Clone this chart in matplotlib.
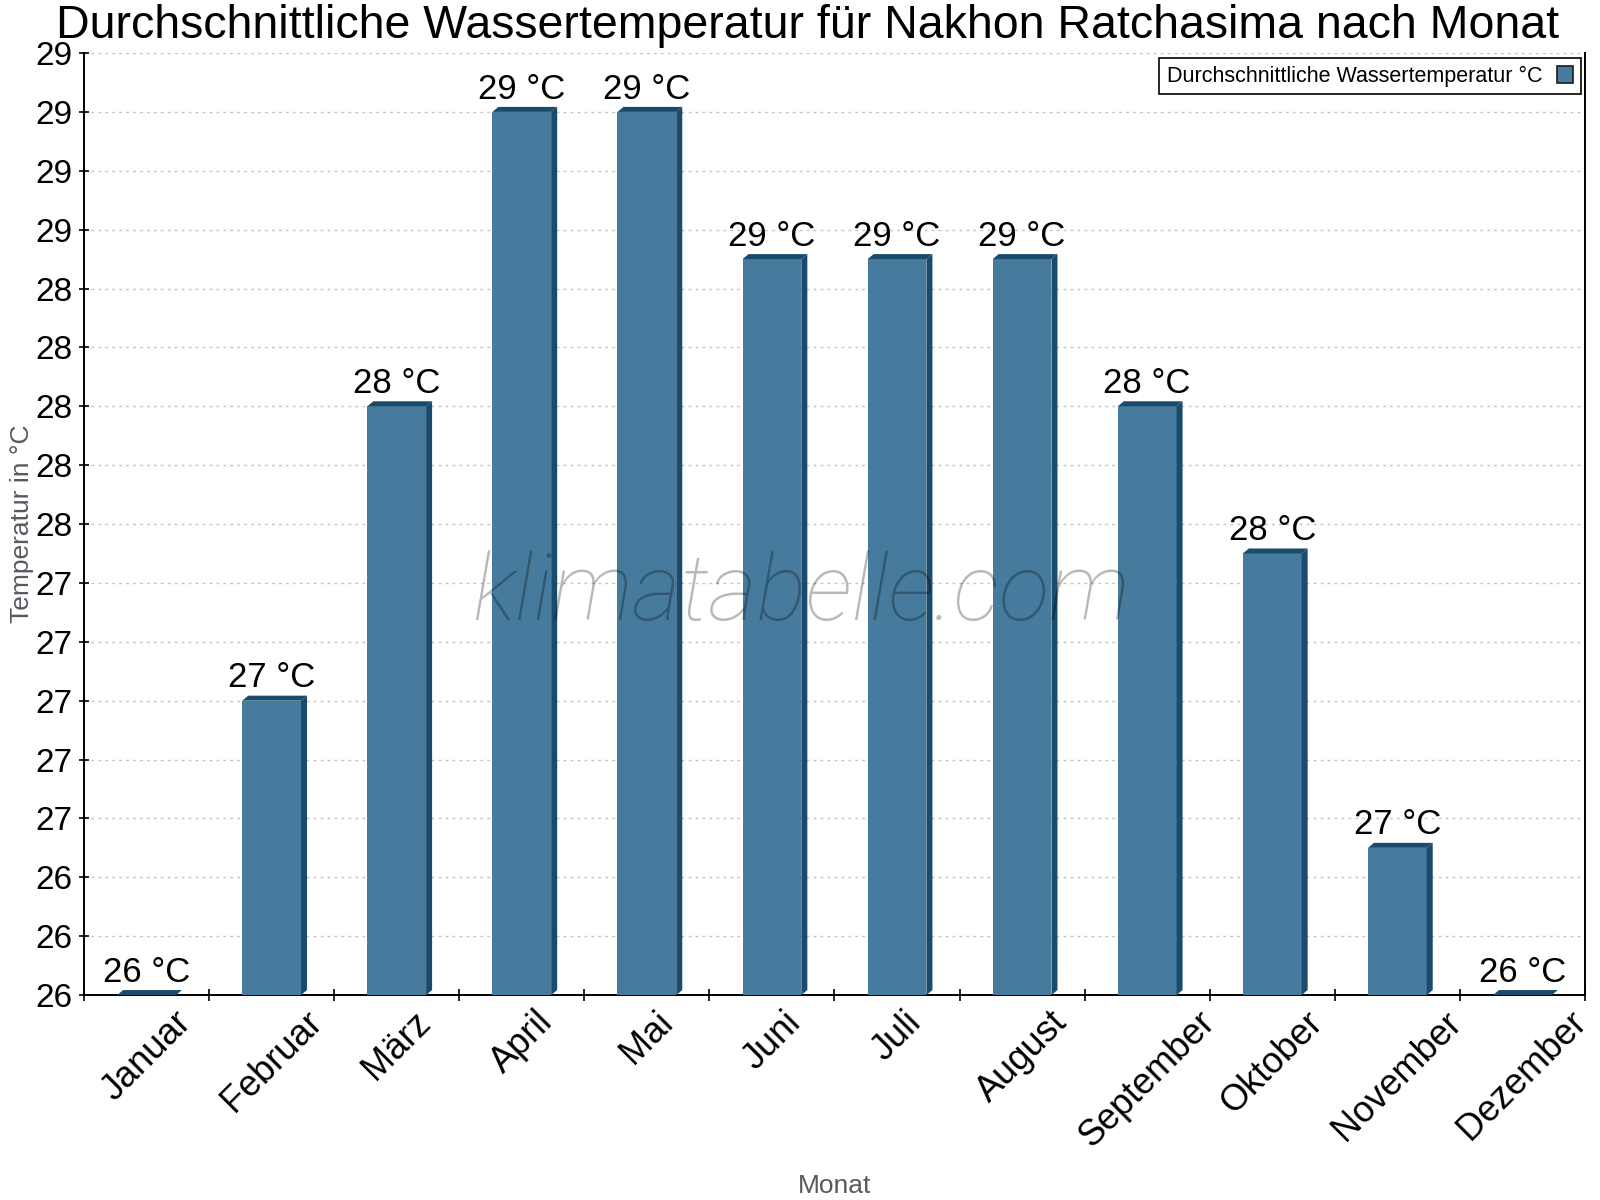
import numpy as np
import matplotlib
matplotlib.use("Agg")
import matplotlib.pyplot as plt
from matplotlib.patches import Polygon, Patch
from matplotlib.ticker import FixedLocator, FuncFormatter

# data
months = ["Januar", "Februar", "März", "April", "Mai", "Juni",
          "Juli", "August", "September", "Oktober", "November", "Dezember"]
water_temp = [26.0, 27.0, 28.0, 29.0, 29.0, 28.5, 28.5, 28.5, 28.0, 27.5, 26.5, 26.0]
y_ticks = [26.0, 26.2, 26.4, 26.6, 26.8, 27.0, 27.2, 27.4, 27.6, 27.8,
           28.0, 28.2, 28.4, 28.6, 28.8, 29.0, 29.2]

title = "Durchschnittliche Wassertemperatur für Nakhon Ratchasima nach Monat"
legend_label = "Durchschnittliche Wassertemperatur °C"

FRONT = "#467b9d"
DARK = "#1b4b6c"

plt.rcParams['font.family'] = ['Liberation Sans', 'DejaVu Sans']


def rounded(v):
    # labels round half up (28.5 -> 29)
    return int(np.floor(v + 0.5 + 1e-9))


fig = plt.figure(figsize=(16, 12), dpi=100)
ax = fig.add_axes([0.0525, 0.1708, 0.9381, 0.785])

x = np.arange(len(months))
bar_w = 0.47
ymin, ymax = y_ticks[0], y_ticks[-1]
ax.set_xlim(-0.5, len(months) - 0.5)
ax.set_ylim(ymin, ymax)

# depth of the fake 3d faces, in data units (about 6 px right, 5 px up)
dx = 0.048
dy = 0.017

ax.bar(x, np.array(water_temp) - ymin, bottom=ymin, width=bar_w,
       color=FRONT, zorder=3)
for xi, v in zip(x, water_temp):
    x0 = xi - bar_w / 2
    x1 = xi + bar_w / 2
    top = Polygon([(x0, v), (x1, v), (x1 + dx, v + dy), (x0 + dx, v + dy)],
                  closed=True, facecolor=DARK, edgecolor="none", zorder=3)
    side = Polygon([(x1, ymin), (x1, v), (x1 + dx, v + dy), (x1 + dx, ymin + dy)],
                   closed=True, facecolor=DARK, edgecolor="none", zorder=3)
    ax.add_patch(top)
    ax.add_patch(side)
    ax.annotate(f"{rounded(v)} °C", (xi, v + dy), xytext=(0, 1),
                textcoords="offset points", ha="center", va="bottom",
                fontsize=25, color="black", zorder=5)

# y axis
ax.yaxis.set_major_locator(FixedLocator(y_ticks))
ax.yaxis.set_major_formatter(FuncFormatter(lambda v, p: f"{rounded(v)}"))
ax.tick_params(axis="y", direction="inout", length=7, width=1.2,
               labelsize=24, pad=5)
ax.grid(axis="y", color="#c4c4c4", linestyle=(0, (2, 3)), linewidth=1, zorder=0)
ax.set_axisbelow(True)

# x axis: ticks at category borders, labels at centers
ax.set_xticks(np.arange(-0.5, len(months), 1.0))
ax.set_xticklabels([])
ax.set_xticks(x, minor=True)
ax.set_xticklabels(months, minor=True, rotation=45, ha="center", va="top",
                   fontsize=26)
ax.tick_params(axis="x", which="major", direction="inout", length=8, width=1.2)
ax.tick_params(axis="x", which="minor", length=0, pad=7)

for s in ["left", "bottom", "right"]:
    ax.spines[s].set_linewidth(1.4)
    ax.spines[s].set_color("black")
ax.spines["top"].set_visible(False)

ax.set_xlabel("Monat", fontsize=19, color="#555a60", va="top")
ax.xaxis.set_label_coords(0.5, -0.19)
ax.set_ylabel("Temperatur in °C", fontsize=19, color="#555a60")
ax.yaxis.set_label_coords(-0.033, 0.5)

fig.suptitle(title, x=0.505, y=0.997, va="top", fontsize=33.5)

# watermark
ax.text(0.478, 0.425, "klimatabelle.com", transform=ax.transAxes,
        ha="center", va="center", fontsize=67, style="italic",
        fontweight="light", family=["Roboto", "DejaVu Sans"],
        color="black", alpha=0.28, zorder=6)

handle = Patch(facecolor=FRONT, edgecolor="#1a1a1a", linewidth=1.2)
leg = ax.legend([handle], [legend_label], loc="upper right",
                bbox_to_anchor=(0.9973, 0.9947), borderaxespad=0,
                fontsize=15.5, markerfirst=False, fancybox=False,
                framealpha=1, edgecolor="black", handlelength=0.75,
                handleheight=0.9, handletextpad=0.7, borderpad=0.35)
leg.get_frame().set_linewidth(1.2)

fig.savefig("out.png", dpi=100)
